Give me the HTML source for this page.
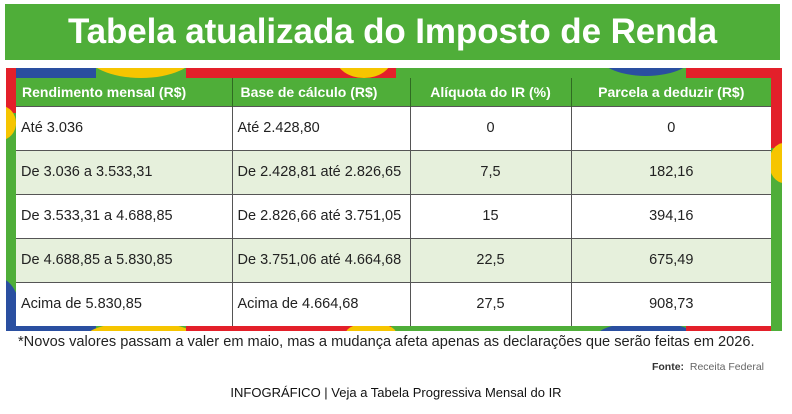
<!DOCTYPE html>
<html><head><meta charset="utf-8"><style>
*{margin:0;padding:0;box-sizing:border-box}
body{width:792px;height:414px;background:#fff;font-family:"Liberation Sans",sans-serif;position:relative;overflow:hidden}
.title{position:absolute;left:5px;top:4px;width:775px;height:56px;background:#4fae39;color:#fff;font-weight:bold;font-size:35px;text-align:center;line-height:56px;letter-spacing:-0.1px}
.frame{position:absolute;left:6px;top:68px;width:776px;height:263px;background:#4fae39;overflow:hidden}
.b{position:absolute}
.e{position:absolute;border-radius:50%}
table{position:absolute;left:16px;top:78px;width:755px;border-collapse:collapse;font-size:14.5px;color:#222}
th{background:#4fae39;color:#fff;font-weight:bold;font-size:14px;height:28px;text-align:center;border-right:1px solid #2f6b22}
th:first-child{text-align:left;padding-left:6px}
td{height:44px;border-top:1px solid #555;border-right:1px solid #555;padding-left:5px;background:#fff}
tr:nth-child(odd) td{background:#e6f0dc}
td.c{text-align:center;padding-left:0}
td:last-child,th:last-child{border-right:none}
.note{position:absolute;left:18px;top:334px;font-size:14.6px;color:#222}
.src{position:absolute;right:28px;top:361px;font-size:10.5px;color:#666}
.src b{color:#333}
.cap{position:absolute;left:0;width:792px;top:385px;text-align:center;font-size:13px;color:#111}
</style></head><body>
<div class="title">Tabela atualizada do Imposto de Renda</div>
<div class="frame">
<div class="b" style="left:0;top:0;width:90px;height:10px;background:#2a4fa0"></div>
<div class="b" style="left:180px;top:0;width:210px;height:10px;background:#e3202a"></div>
<div class="e" style="left:80px;top:-40px;width:110px;height:50px;background:#f6c500"></div>
<div class="e" style="left:330px;top:-30px;width:56px;height:40px;background:#f6c500"></div>
<div class="b" style="left:680px;top:0;width:96px;height:10px;background:#e3202a"></div>
<div class="e" style="left:590px;top:-40px;width:100px;height:48px;background:#2a4fa0"></div>
<div class="b" style="left:0;top:0;width:10px;height:45px;background:#e3202a"></div>
<div class="e" style="left:-20px;top:38px;width:30px;height:34px;background:#f6c500"></div>
<div class="e" style="left:-30px;top:210px;width:45px;height:80px;background:#2a4fa0"></div>
<div class="b" style="left:765px;top:0;width:11px;height:80px;background:#e3202a"></div>
<div class="e" style="left:763px;top:75px;width:30px;height:40px;background:#f6c500"></div>
<div class="b" style="left:0;top:258px;width:90px;height:5px;background:#2a4fa0"></div>
<div class="e" style="left:80px;top:254px;width:110px;height:30px;background:#f6c500"></div>
<div class="b" style="left:180px;top:258px;width:205px;height:5px;background:#e3202a"></div>
<div class="e" style="left:340px;top:255px;width:50px;height:20px;background:#f6c500"></div>
<div class="e" style="left:590px;top:254px;width:100px;height:30px;background:#2a4fa0"></div>
<div class="b" style="left:680px;top:258px;width:85px;height:5px;background:#e3202a"></div>
</div>
<table>
<tr><th style="width:216px">Rendimento mensal (R$)</th><th style="width:178px;text-align:left;padding-left:8px">Base de cálculo (R$)</th><th style="width:161px">Alíquota do IR (%)</th><th>Parcela a deduzir (R$)</th></tr>
<tr><td>Até 3.036</td><td>Até 2.428,80</td><td class="c">0</td><td class="c">0</td></tr>
<tr><td>De 3.036 a 3.533,31</td><td>De 2.428,81 até 2.826,65</td><td class="c">7,5</td><td class="c">182,16</td></tr>
<tr><td>De 3.533,31 a 4.688,85</td><td>De 2.826,66 até 3.751,05</td><td class="c">15</td><td class="c">394,16</td></tr>
<tr><td>De 4.688,85 a 5.830,85</td><td>De 3.751,06 até 4.664,68</td><td class="c">22,5</td><td class="c">675,49</td></tr>
<tr><td>Acima de 5.830,85</td><td>Acima de 4.664,68</td><td class="c">27,5</td><td class="c">908,73</td></tr>
</table>
<div class="note">*Novos valores passam a valer em maio, mas a mudança afeta apenas as declarações que serão feitas em 2026.</div>
<div class="src"><b>Fonte:</b>&nbsp; Receita Federal</div>
<div class="cap">INFOGRÁFICO | Veja a Tabela Progressiva Mensal do IR</div>
</body></html>
